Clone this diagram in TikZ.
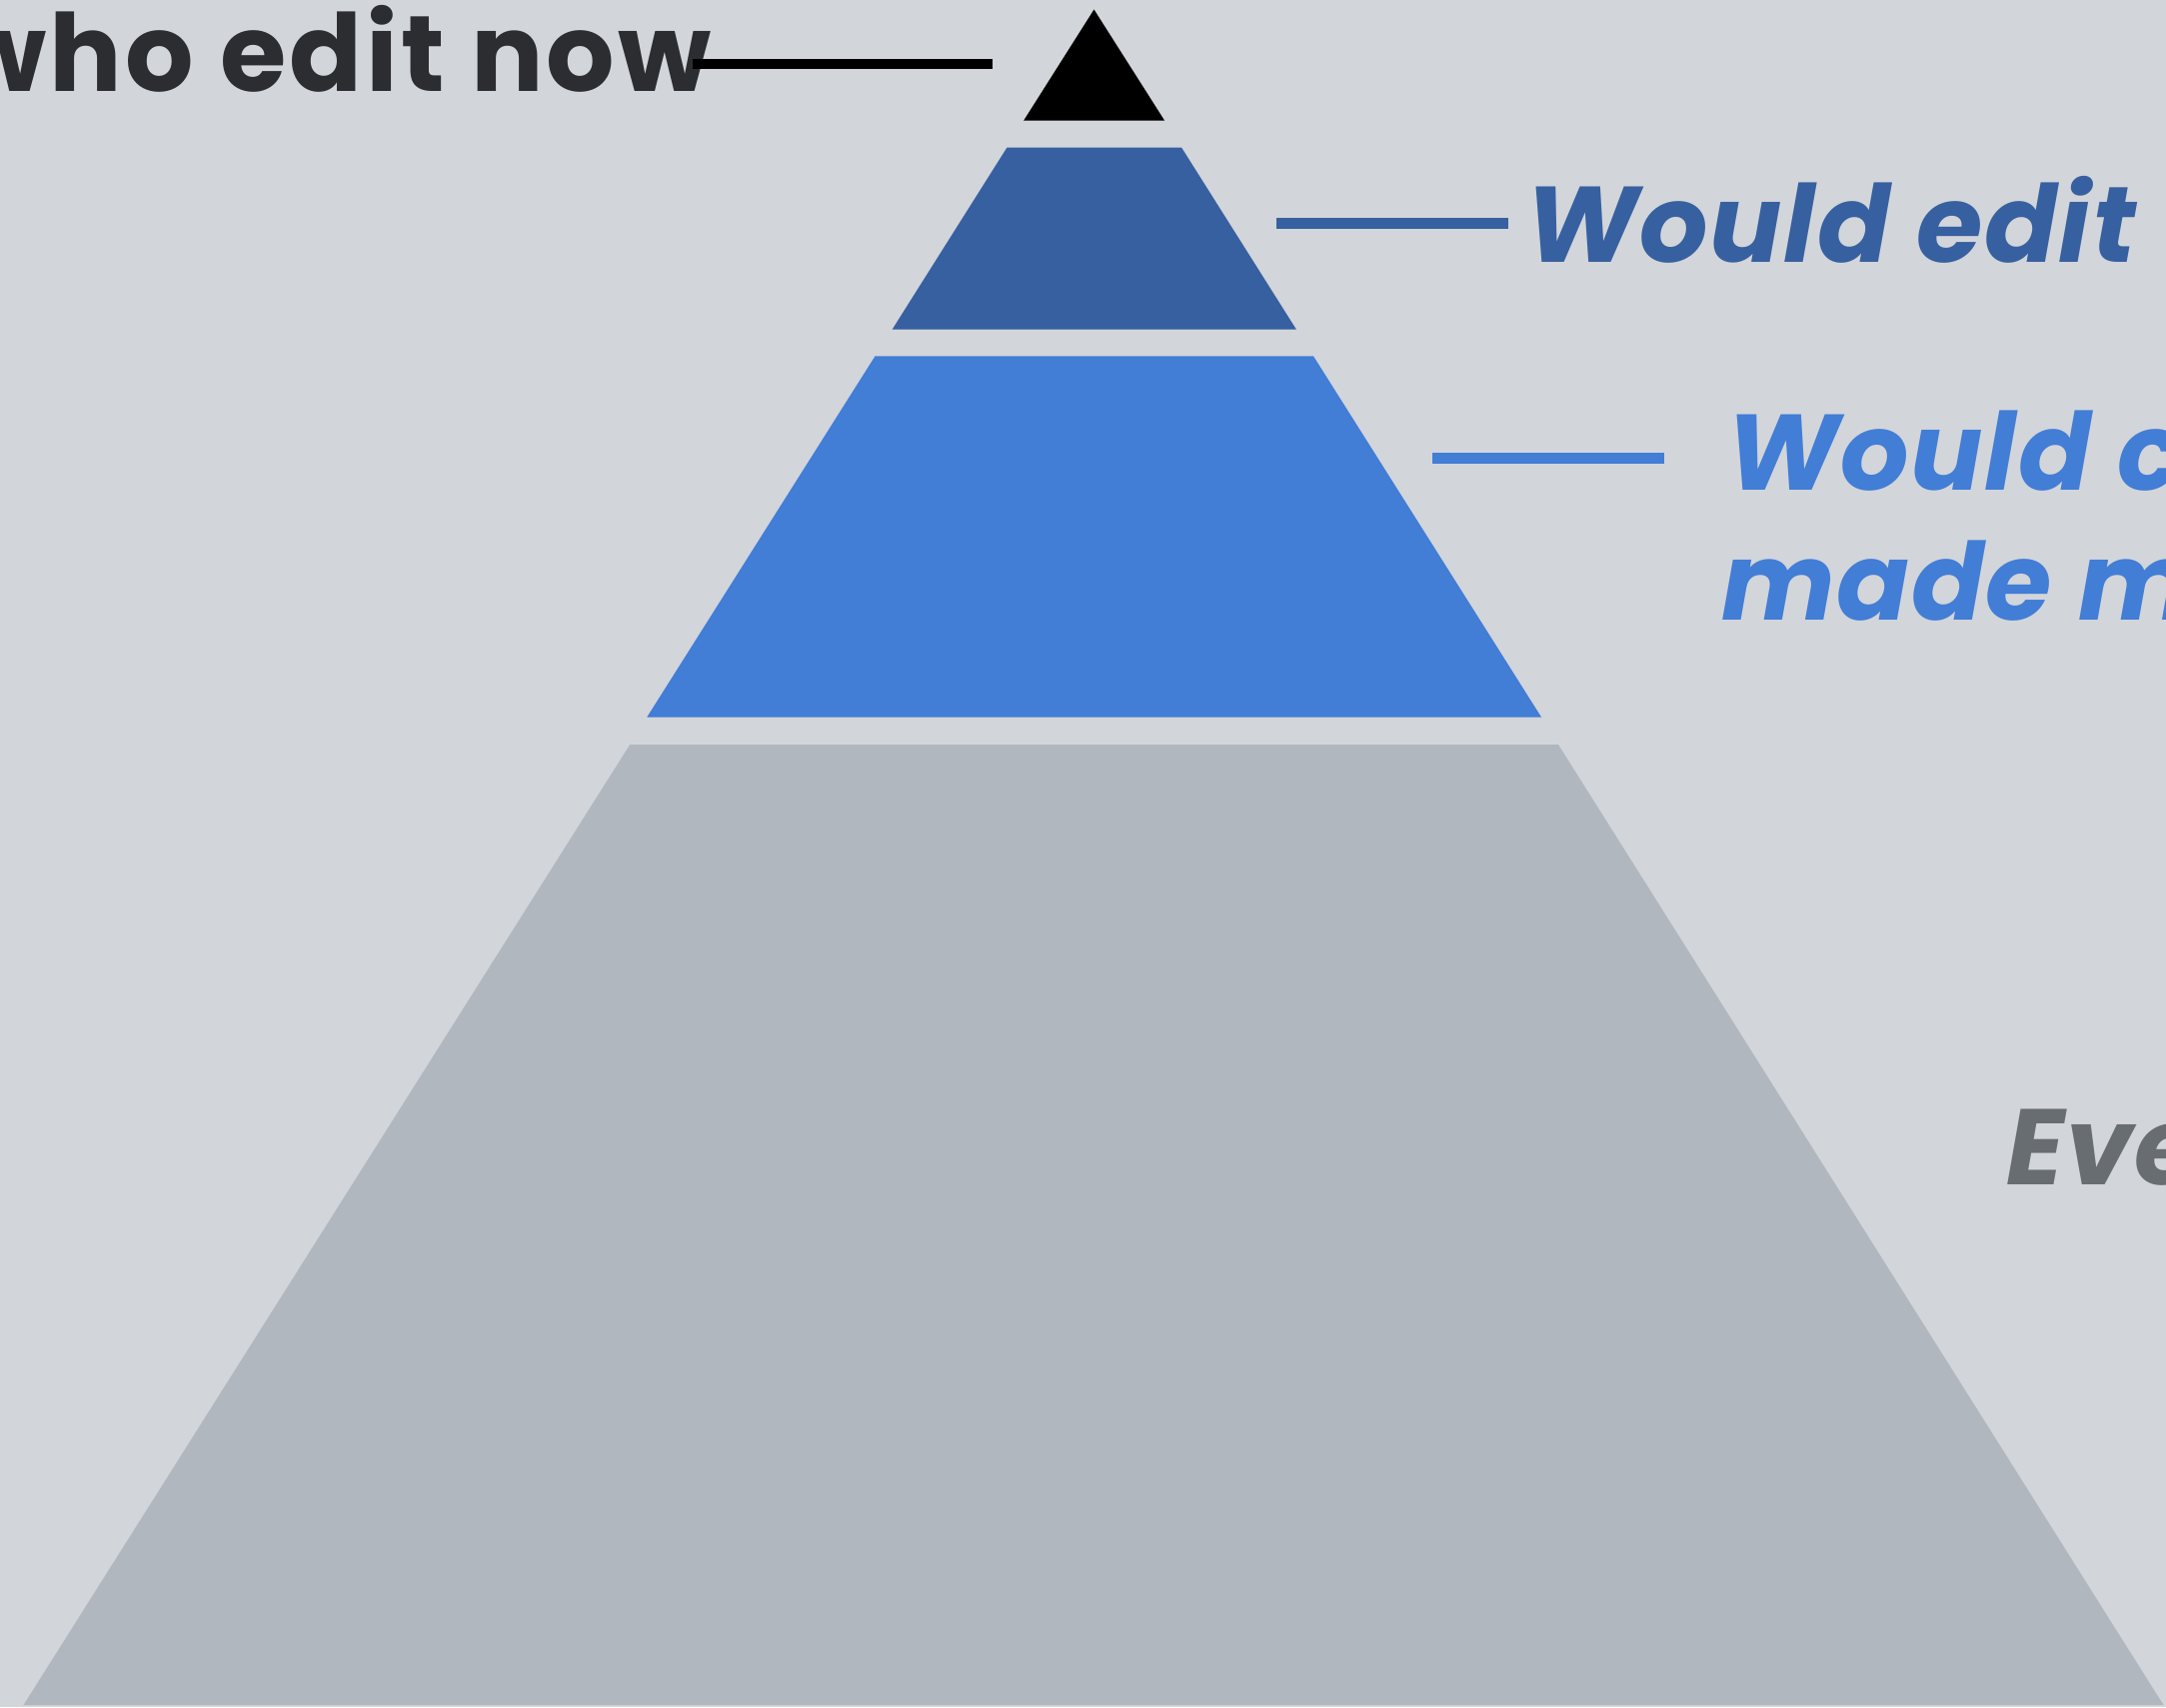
\documentclass[tikz,border=0pt]{standalone}
\usepackage{fontspec}
\setmainfont{Poppins}
\newfontfamily\uprfont[LetterSpace=3.1]{Poppins}
\newfontfamily\itfont[LetterSpace=1.4]{Poppins}
\definecolor{bgc}{HTML}{D2D5DA}
\definecolor{topc}{HTML}{000000}
\definecolor{darkblue}{HTML}{3760A0}
\definecolor{midblue}{HTML}{427DD6}
\definecolor{greyc}{HTML}{B1B7BF}
\definecolor{txtdark}{HTML}{2B2D30}
\definecolor{txtgrey}{HTML}{686D72}
\tikzset{
  layer/.style={draw=none},
  leader/.style={line width=5.2pt},
  lbl/.style={inner sep=0pt, outer sep=0pt, font=\uprfont\fontsize{53.8pt}{60pt}\selectfont\bfseries},
  ilbl/.style={inner sep=0pt, outer sep=0pt, font=\itfont\fontsize{53.8pt}{60pt}\selectfont\bfseries\itshape}
}
\begin{document}
\begin{tikzpicture}[x=0.5pt,y=-0.5pt]
\fill[bgc] (0,0) rectangle (2167,1708);
\useasboundingbox (0,0) rectangle (2167,1708);
% pyramid layers
\fill[topc, layer] (1094.5,9.5) -- (1165,120.5) -- (1024.2,120.5) -- cycle;
\fill[darkblue, layer] (1007.5,147.5) -- (1182,147.5) -- (1296.8,329.5) -- (892.7,329.5) -- cycle;
\fill[midblue, layer] (875.5,356.3) -- (1314,356.3) -- (1542,717.5) -- (647.3,717.5) -- cycle;
\fill[greyc, layer] (630.2,745) -- (1559,745) -- (2164.5,1706) -- (23.5,1706) -- cycle;
% labels
\node[lbl, text=txtdark, anchor=base east] (l1) at (712,91.7) {who edit now};
\node[ilbl, text=darkblue, anchor=base west] (l2) at (1526,262) {Would edit};
\node[ilbl, text=midblue, anchor=base west] (l3) at (1727,490) {Would c};
\node[ilbl, text=midblue, anchor=base west] (l3b) at (1722,620.7) {made m};
\node[ilbl, text=txtgrey, anchor=base west] (l4) at (2007,1185.7) {Eve};
% leader lines
\coordinate (a1) at (692.6,64);
\coordinate (b1) at (992.6,64);
\coordinate (a2) at (1277,223.5);
\coordinate (b2) at (1509,223.5);
\coordinate (a3) at (1433,458.5);
\coordinate (b3) at (1665,458.5);
\draw[leader, topc] (a1) -- (b1);
\draw[leader, darkblue] (a2) -- (b2);
\draw[leader, midblue] (a3) -- (b3);
\end{tikzpicture}
\end{document}
